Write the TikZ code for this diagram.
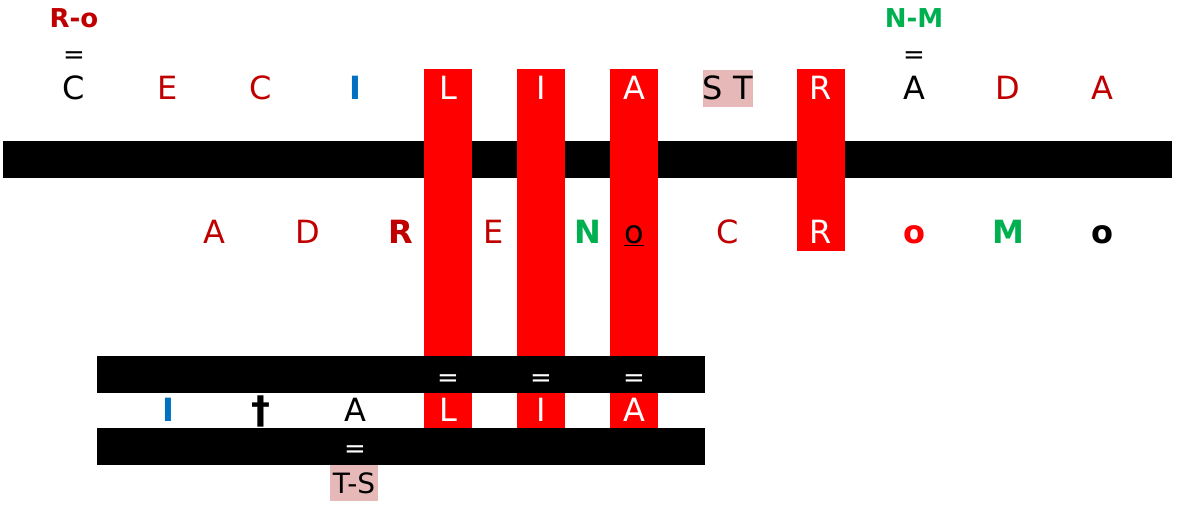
\documentclass[tikz,border=0pt]{standalone}
\usepackage{fontspec}
\setmainfont{DejaVu Sans}
\usepackage{xcolor}
\usetikzlibrary{backgrounds}

\definecolor{darkred}{HTML}{C00000}
\definecolor{blueI}{HTML}{0070C0}
\definecolor{greenNM}{HTML}{00B050}
\definecolor{pinkbox}{HTML}{E6B8B7}

\begin{document}
\begin{tikzpicture}[x=1pt,y=-1pt,
  letter/.style={font=\fontsize{32}{36}\selectfont,inner sep=0pt,
    minimum width=47pt,minimum height=37pt,text height=23.3pt,text depth=0pt},
  bletter/.style={letter,font=\fontsize{32}{36}\selectfont\bfseries},
  tag/.style={font=\fontsize{26}{30}\selectfont\bfseries,inner sep=0pt},
  eq/.style={font=\fontsize{26}{30}\selectfont,inner sep=0pt,
    text height=19pt,text depth=0pt}]
  \useasboundingbox (0,0) rectangle (1177,507);

  % headings above the first row
  \node[tag,text=darkred] (ro) at (74,18) {R-o};
  \node[tag,text=greenNM] (nm) at (914,18) {N-M};
  \node[eq] (eqro) at (74,54) {=};
  \node[eq] (eqnm) at (914,54) {=};

  % first row
  \node[letter] (c1) at (74,88) {C};
  \node[letter,text=darkred] (e1) at (168,88) {E};
  \node[letter,text=darkred] (c2) at (261,88) {C};
  \node[bletter,text=blueI] (i1) at (355,88) {I};
  \node[letter,text=white] (l1) at (448,88) {L};
  \node[letter,text=white] (i2) at (541,88) {I};
  \node[letter,text=white] (a1) at (634,88) {A};
  \node[letter,fill=pinkbox,minimum width=48pt] (st) at (728,88) {S T};
  \node[letter,text=white] (r1) at (821,88) {R};
  \node[letter] (a2) at (914,88) {A};
  \node[letter,text=darkred] (d1) at (1008,88) {D};
  \node[letter,text=darkred] (a3) at (1102,88) {A};

  % second row
  \node[letter,text=darkred] (a4) at (214,232) {A};
  \node[letter,text=darkred] (d2) at (308,232) {D};
  \node[bletter,text=darkred] (r2) at (401,232) {R};
  \node[letter,text=darkred] (e2) at (494,232) {E};
  \node[bletter,text=greenNM] (n1) at (588,232) {N};
  \node[letter] (o1) at (634,232) {\underline{o}};
  \node[letter,text=darkred] (c3) at (728,232) {C};
  \node[letter,text=white] (r3) at (821,232) {R};
  \node[bletter,text=red] (o2) at (914,232) {o};
  \node[bletter,text=greenNM] (m1) at (1008,232) {M};
  \node[bletter] (o3) at (1102,232) {o};

  % lower row
  \node[bletter,text=blueI] (i3) at (168,410) {I};
  \node[letter,font=\fontsize{38}{40}\selectfont\bfseries] (dg) at (261,412) {†};
  \node[letter] (a5) at (355,410) {A};
  \node[letter,text=white] (l2) at (448,410) {L};
  \node[letter,text=white] (i4) at (541,410) {I};
  \node[letter,text=white] (a6) at (634,410) {A};
  \node[font=\fontsize{28}{32}\selectfont,inner sep=0pt,fill=pinkbox,
    minimum width=48pt,minimum height=36pt,text height=20.4pt,text depth=0pt]
    (ts) at (354,483) {T-S};

  % equal signs in the lower bars
  \node[eq,text=white] (eql) at (448,377) {=};
  \node[eq,text=white] (eqi) at (541,377) {=};
  \node[eq,text=white] (eqa) at (634,377) {=};
  \node[eq,text=white] (eqts) at (355,448) {=};

  \begin{scope}[on background layer]
    \fill[black] (3,141) rectangle (1172,178);
    \fill[red] (l1.north west) rectangle (l2.south east);
    \fill[red] (i2.north west) rectangle (i4.south east);
    \fill[red] (a1.north west) rectangle (a6.south east);
    \fill[red] (r1.north west) rectangle (r3.south east);
    \fill[black] (97,356) rectangle (705,393);
    \fill[black] (97,428) rectangle (705,465);
  \end{scope}
\end{tikzpicture}
\end{document}
